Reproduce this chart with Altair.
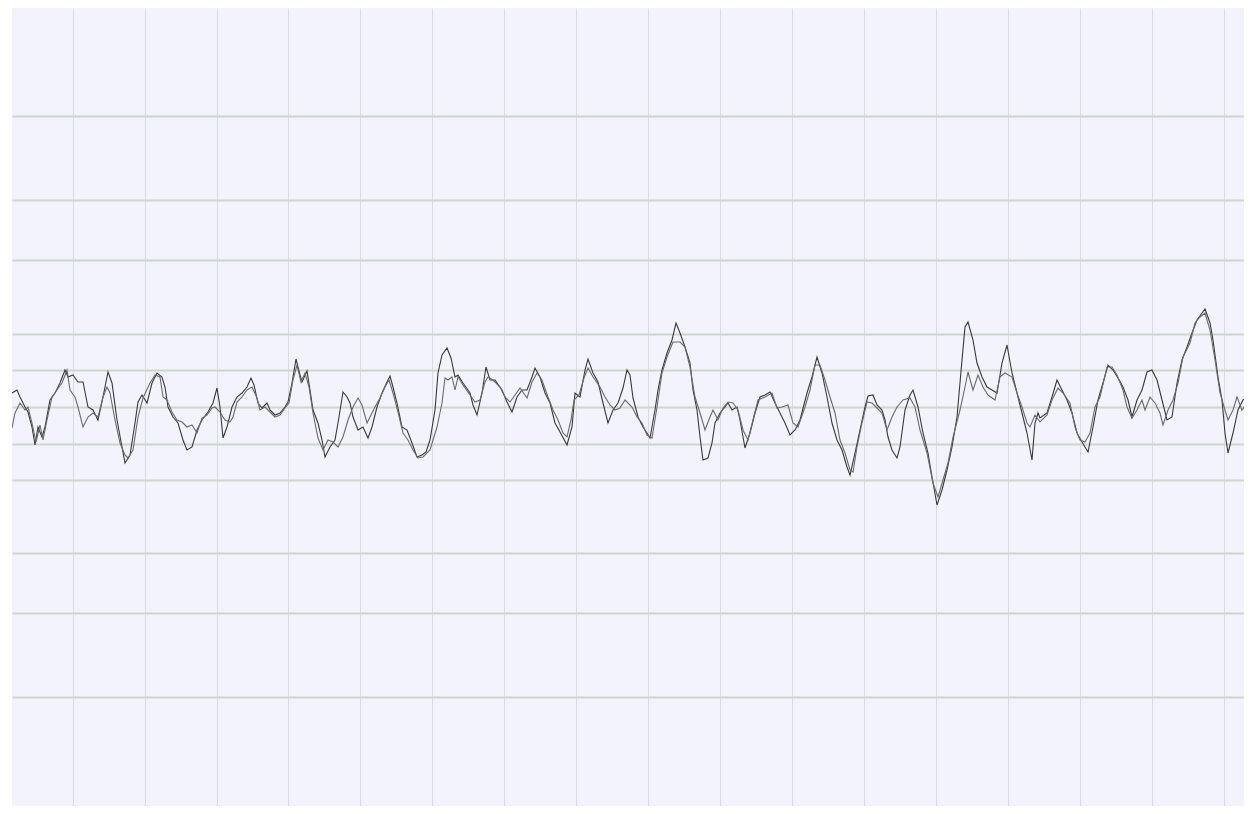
import altair as alt
import pandas as pd

# Trace A (darker channel): sample index and amplitude
t_a = [12, 17, 20, 25, 28, 32, 35, 38, 42, 45, 50, 55, 60, 65, 68, 73, 78, 83, 88, 93, 98, 103, 108, 112, 117, 122, 125, 130, 135, 138, 142, 147, 152, 157, 162, 165, 168, 173, 178, 183, 187, 192, 197, 202, 208, 213, 217,
       220, 223, 227, 232, 237, 242, 247, 251, 254, 258, 262, 267, 270, 275, 280, 285, 288, 292, 296, 300, 302, 307, 310, 313, 318, 322, 325, 330, 335, 339, 343, 347, 350, 353, 358, 363, 368, 372, 377, 382, 387, 390, 393, 397, 402, 407, 412, 417, 422,
       426, 430, 435, 438, 442, 447, 451, 455, 458, 463, 470, 473, 477, 482, 486, 490, 495, 502, 507, 512, 517, 522, 527, 532, 535, 540, 545, 550, 555, 560, 567, 572, 575, 580, 585, 588, 593, 598, 603, 608, 613, 618, 623, 627,
       630, 633, 638, 643, 647, 650, 655, 658, 662, 667, 672, 676, 680, 685, 690, 693, 697, 700, 703, 708, 712, 715, 720, 725, 728, 732, 737, 740, 745, 750, 755, 760, 765, 770, 775, 780, 785, 790, 795, 800, 807, 812, 817, 822, 827, 832,
       837, 842, 847, 850, 855, 860, 865, 868, 873, 877, 882, 885, 888, 892, 897, 900, 905, 910, 913, 918, 923, 928, 932, 937, 942, 947, 952, 957, 962, 965, 968, 973, 977, 982, 987, 992, 997, 1002, 1007, 1012, 1017, 1022, 1027, 1032, 1035, 1038,
       1040, 1047, 1052, 1057, 1062, 1067, 1072, 1077, 1082, 1088, 1093, 1098, 1103, 1108, 1113, 1118, 1123, 1128, 1132, 1137, 1142, 1147, 1152, 1157, 1162, 1167, 1172, 1177, 1182, 1187, 1192, 1197, 1202, 1205, 1210, 1213, 1218, 1222, 1225, 1228, 1233, 1238, 1243, 1248, 1252]
v_a = [14, 17, 10, 0, -5, -20, -38, -20, -30, -20, 7, 14, 24, 37, 30, 32, 25, 25, 0, -3, -13, 10, 35, 24, -13, -40, -56, -48, -16, 5, 12, 4, 24, 34, 30, 20, 0, -10, -16, -33, -43, -40, -23, -13, -5, 4, 19,
       0, -31, -20, 0, 10, 14, 20, 29, 22, 4, -1, 4, -3, -8, -6, 0, 5, 24, 48, 32, 25, 36, 17, -3, -16, -33, -50, -40, -33, -10, 15, 10, 4, -10, -23, -20, -31, -20, 0, 14, 25, 31, 20, 4, -20, -23, -36, -50, -48,
       -45, -33, -3, 34, 52, 59, 49, 30, 32, 24, 14, 2, -8, 14, 40, 27, 27, 17, 5, -5, 10, 17, 17, 30, 39, 30, 14, 4, -16, -25, -38, -20, 14, 10, 37, 48, 34, 25, 4, -16, -3, 4, 19, 37,
       32, 9, -10, -20, -26, -31, -3, 17, 37, 54, 67, 84, 74, 60, 44, 17, -3, -30, -53, -51, -36, -16, -6, 0, 4, -3, 0, -13, -41, -26, -6, 10, 12, 15, 4, -6, -16, -28, -23, -13, 14, 30, 50, 34, 10, -16,
       -33, -43, -60, -68, -46, -23, 0, 11, 12, 2, -3, -13, -30, -43, -51, -40, -3, 12, 17, 0, -26, -46, -70, -98, -83, -63, -40, -10, 47, 80, 85, 67, 44, 30, 20, 17, 14, 44, 62, 34, 14, -6, -26, -53, -16, -6,
       -11, -6, 10, 27, 17, 7, -6, -26, -35, -45, -20, 7, 24, 42, 37, 29, 20, 7, -10, 7, 17, 35, 37, 27, 7, -13, -10, 24, 47, 60, 74, 87, 94, 98, 84, 67, 30, 7, -26, -46, -26, -3, 7, 10, 20]

# Trace B (lighter channel)
t_b = [12, 15, 20, 25, 28, 32, 36, 40, 43, 47, 52, 57, 62, 67, 70, 75, 78, 83, 88, 93, 98, 103, 107, 110, 115, 120, 125, 128, 133, 138, 143, 150, 155, 160, 163, 167, 172, 177, 182, 187, 192, 197, 202, 207, 212,
       215, 220, 225, 230, 233, 237, 242, 247, 252, 257, 260, 265, 270, 275, 280, 285, 289, 293, 297, 301, 305, 309, 313, 318, 323, 328, 333, 338, 343, 348, 353, 358, 362, 367, 370, 375, 380, 385, 389, 393, 398, 403, 408, 413, 418, 423,
       430, 437, 442, 445, 448, 452, 455, 458, 463, 470, 475, 480, 485, 488, 493, 500, 505, 510, 515, 520, 527, 532, 537, 542, 548, 553, 558, 563, 567, 571, 574, 579, 584, 588, 593, 600, 605, 610, 615, 620, 625,
       632, 637, 642, 647, 652, 657, 662, 667, 673, 680, 685, 690, 695, 700, 705, 710, 713, 718, 723, 728, 733, 738, 743, 748, 753, 758, 765, 772, 777, 782, 788, 793, 798, 805, 810, 815, 820, 825, 830, 835,
       840, 845, 850, 853, 857, 862, 867, 872, 877, 882, 887, 892, 897, 903, 910, 915, 920, 927, 933, 938, 943, 948, 953, 960, 965, 968, 973, 978, 983, 988, 995, 1000, 1005, 1012, 1017, 1022, 1027, 1030, 1035,
       1040, 1047, 1052, 1058, 1063, 1070, 1075, 1080, 1085, 1090, 1095, 1100, 1107, 1112, 1117, 1123, 1127, 1132, 1137, 1142, 1145, 1150, 1155, 1160, 1163, 1168, 1173, 1178, 1183, 1190, 1195, 1200, 1205, 1210, 1215, 1220, 1225, 1228, 1233, 1237, 1242, 1247, 1252]
v_b = [-21, -6, 4, -3, 0, -16, -35, -18, -33, -13, 10, 17, 24, 37, 17, 10, 0, -20, -10, -6, -10, 10, 20, 14, -13, -36, -48, -51, -43, -10, 9, 24, 32, 30, 10, 7, -5, -13, -15, -20, -18, -26, -11, -8, -1,
       0, -5, -13, -15, -10, 5, 10, 17, 20, 9, -3, 0, -5, -10, -8, -1, 4, 27, 42, 25, 34, 20, -6, -31, -43, -33, -35, -40, -30, -13, 0, 9, 2, -16, -10, 0, 9, 20, 27, 14, -5, -26, -33, -43, -51, -50,
       -43, -20, 4, 29, 27, 30, 17, 30, 22, 12, 5, 7, 25, 30, 27, 20, 10, 5, 12, 19, 9, 25, 34, 27, 10, -3, -13, -26, -30, -13, 7, 12, 29, 39, 30, 20, 10, 2, -3, -1, 7,
       0, -10, -16, -28, -31, 0, 34, 50, 65, 65, 60, 40, 10, -6, -23, -10, -3, -13, -1, 5, 4, -3, -23, -33, -13, 7, 10, 14, -1, 0, 2, -16, -20, 0, 17, 42, 42, 27, 10, -6,
       -33, -46, -63, -65, -40, -16, 5, 4, -1, -6, -23, -10, 0, 7, 9, 0, -23, -46, -76, -90, -73, -56, -30, -3, 20, 35, 17, 32, 20, 12, 7, 30, 34, 30, 14, 0, -16, -20, -8,
       -15, -8, 7, 19, 14, 4, -20, -33, -35, -26, 0, 10, 40, 40, 32, 17, 0, -11, -3, 7, -3, 10, 4, -6, -18, -3, 7, 24, 50, 64, 84, 90, 94, 77, 47, 14, -3, -13, -3, 10, -3, 4, 10]

# Grid positions (sample index / amplitude)
x_grid = [73, 145, 217, 288, 360, 432, 504, 576, 648, 720, 792, 864, 936, 1008, 1080, 1152, 1224]
y_grid = [-290, -206, -146, -73, -37, 0, 37, 73, 147, 207, 291]

df = pd.concat([
    pd.DataFrame({"t": t_a, "v": v_a, "trace": "A"}),
    pd.DataFrame({"t": t_b, "v": v_b, "trace": "B"}),
], ignore_index=True)

x_enc = alt.X(
    "t:Q",
    scale=alt.Scale(domain=[12, 1244], nice=False, zero=False),
    axis=alt.Axis(values=x_grid, grid=True, labels=False, ticks=False, domain=False,
                  title=None, gridColor="#d5dedd", gridWidth=1, gridOpacity=1),
)
y_enc = alt.Y(
    "v:Q",
    scale=alt.Scale(domain=[-399, 399], nice=False, zero=False),
    axis=alt.Axis(values=y_grid, grid=True, labels=False, ticks=False, domain=False,
                  title=None, gridColor="#ccd8c8", gridWidth=2, gridOpacity=1),
)

chart = alt.Chart(df).mark_line(strokeWidth=1.1, clip=True, interpolate="linear").encode(
    x=x_enc,
    y=y_enc,
    color=alt.Color("trace:N", scale=alt.Scale(domain=["A", "B"], range=["#383838", "#6a6a6a"]), legend=None),
).properties(
    width=1232,
    height=798,
    padding={"left": 4, "top": 0, "right": 0, "bottom": 0},
    autosize="none",
    background="white",
).configure_view(fill="#f3f3fd", stroke=None)

chart.save("out.html", embed_options={"renderer": "svg", "actions": False})
